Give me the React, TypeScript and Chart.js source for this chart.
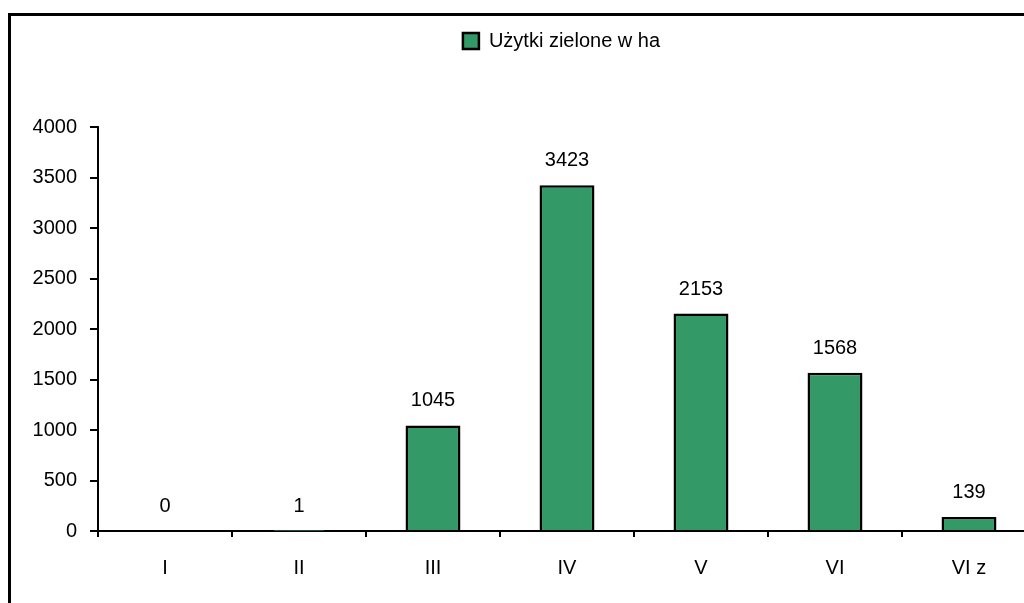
import React, { useEffect, useRef } from "react";
import { Chart, registerables } from "chart.js";

Chart.register(...registerables);

const categories: string[] = ["I", "II", "III", "IV", "V", "VI", "VI z"];
const seriesName = "Użytki zielone w ha";
const values: number[] = [0, 1, 1045, 3423, 2153, 1568, 139];
const yTicks: number[] = [0, 500, 1000, 1500, 2000, 2500, 3000, 3500, 4000];

const GREEN = "#339966";
const FONT = "'Liberation Sans', Arial, sans-serif";

const valueLabels = {
  id: "valueLabels",
  afterDatasetsDraw(chart: any) {
    const ctx = chart.ctx;
    const meta = chart.getDatasetMeta(0);
    ctx.save();
    ctx.font = `20px ${FONT}`;
    ctx.fillStyle = "#000";
    ctx.textAlign = "center";
    ctx.textBaseline = "alphabetic";
    meta.data.forEach((bar: any, i: number) => {
      const v = chart.data.datasets[0].data[i];
      ctx.fillText(String(v), bar.x, bar.y - 19);
    });
    ctx.restore();
  },
};

const legendSpacer = {
  id: "legendSpacer",
  beforeInit(chart: any) {
    const lg = chart.legend;
    if (!lg || lg.__spaced) return;
    const orig = lg.fit.bind(lg);
    lg.fit = function () {
      orig();
      this.height += 66;
    };
    lg.__spaced = true;
  },
  afterLayout(chart: any) {
    const lg = chart.legend;
    if (lg) {
      lg.right += 76;
      lg.width += 76;
    }
  },
};

export default function App() {
  const ref = useRef<HTMLCanvasElement | null>(null);
  useEffect(() => {
    if (!ref.current) return;
    const chart = new Chart(ref.current, {
      type: "bar",
      data: {
        labels: categories,
        datasets: [
          {
            label: seriesName,
            data: values,
            backgroundColor: GREEN,
            borderColor: "#000",
            borderWidth: 2.5,
            barPercentage: 0.41,
            categoryPercentage: 1,
          },
        ],
      },
      options: {
        responsive: false,
        animation: false,
        devicePixelRatio: 1,
        layout: { padding: { top: 5, right: 75, left: 0, bottom: 0 } },
        plugins: {
          legend: {
            display: true,
            position: "top",
            labels: {
              boxWidth: 16,
              boxHeight: 16,
              color: "#000",
              padding: 10,
              font: { family: FONT, size: 20 },
            },
          },
          tooltip: { enabled: false },
          title: { display: false },
        },
        scales: {
          x: {
            offset: true,
            afterFit: (scale: any) => {
              scale.height = 80;
            },
            grid: {
              offset: true,
              drawOnChartArea: false,
              drawTicks: true,
              tickLength: 6,
              color: "#000",
              lineWidth: 2,
            },
            border: { display: true, color: "#000", width: 2 },
            ticks: {
              color: "#000",
              padding: 19,
              font: { family: FONT, size: 20 },
              maxRotation: 0,
              autoSkip: false,
            },
          },
          y: {
            min: 0,
            max: 4000,
            afterBuildTicks: (scale: any) => {
              scale.ticks = yTicks.map((v) => ({ value: v }));
            },
            afterFit: (scale: any) => {
              scale.width = 87;
            },
            grid: {
              drawOnChartArea: false,
              drawTicks: true,
              tickLength: 8,
              color: "#000",
              lineWidth: 2,
            },
            border: { display: true, color: "#000", width: 2 },
            ticks: {
              color: "#000",
              padding: 13,
              font: { family: FONT, size: 20 },
              callback: (v: any) => String(v),
            },
          },
        },
      },
      plugins: [legendSpacer, valueLabels],
    });
    return () => chart.destroy();
  }, []);

  return (
    <div
      style={{
        position: "fixed",
        left: 0,
        top: 0,
        width: 1024,
        height: 603,
        overflow: "hidden",
        background: "#fff",
      }}
    >
      <div
        style={{
          position: "absolute",
          left: 8,
          top: 13,
          width: 1100,
          height: 595,
          border: "3px solid #000",
          boxSizing: "content-box",
        }}
      >
        <canvas ref={ref} width={1100} height={595} style={{ display: "block" }} />
      </div>
    </div>
  );
}
